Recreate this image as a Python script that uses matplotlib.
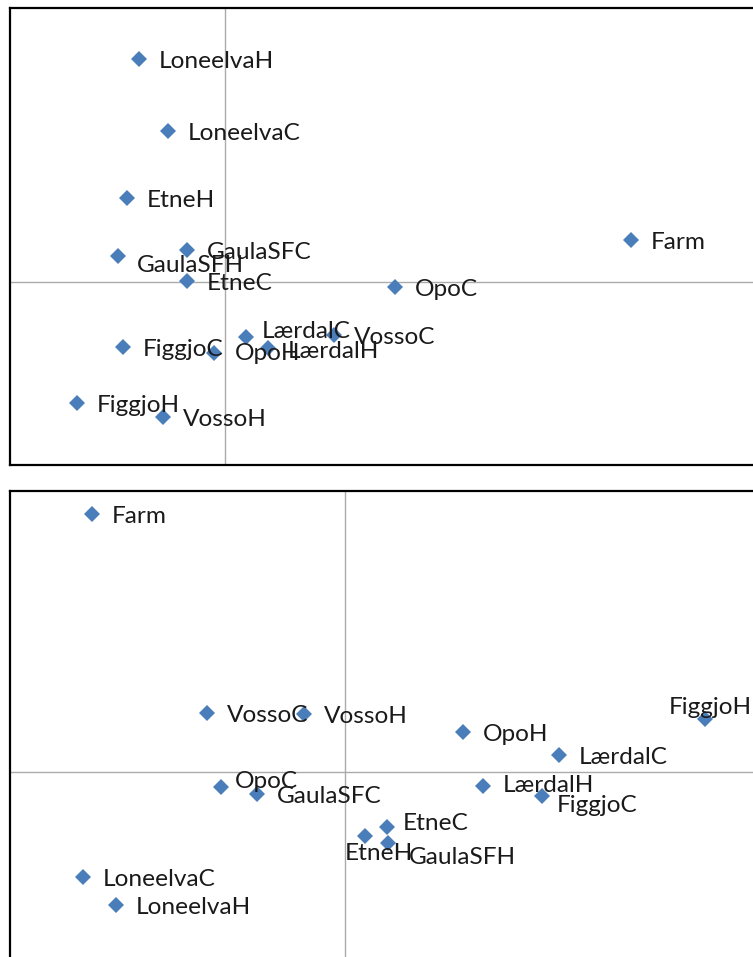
import matplotlib
matplotlib.use("Agg")
import matplotlib.pyplot as plt

# ---------------- data (score units) ----------------
top_labels = ["LoneelvaH", "LoneelvaC", "EtneH", "GaulaSFC", "GaulaSFH", "EtneC", "Farm",
              "OpoC", "LærdalC", "VossoC", "FiggjoC", "OpoH", "LærdalH", "FiggjoH", "VossoH"]
top_x = [-0.86, -0.57, -0.98, -0.38, -1.07, -0.38, 4.06, 1.70, 0.21, 1.09, -1.02, -0.11, 0.43, -1.48, -0.62]
top_y = [2.23, 1.51, 0.84, 0.32, 0.26, 0.01, 0.42, -0.05, -0.55, -0.53, -0.65, -0.71, -0.66, -1.21, -1.35]

bot_labels = ["Farm", "VossoC", "VossoH", "OpoH", "FiggjoH", "LærdalC", "OpoC", "GaulaSFC",
              "LærdalH", "FiggjoC", "EtneC", "EtneH", "GaulaSFH", "LoneelvaC", "LoneelvaH"]
bot_x = [-2.53, -1.38, -0.41, 1.18, 3.60, 2.14, -1.24, -0.88, 1.38, 1.97, 0.42, 0.20, 0.43, -2.62, -2.29]
bot_y = [2.58, 0.59, 0.58, 0.40, 0.53, 0.17, -0.15, -0.22, -0.14, -0.24, -0.55, -0.64, -0.71, -1.05, -1.33]

# ---------------- style ----------------
W, H = 753, 957
DPI = 100
MARKER_COLOR = "#4A7EBB"
GRID_COLOR = "#ABABAB"
TEXT_COLOR = "#1a1a1a"
FONT = ["Lato", "DejaVu Sans"]
FS = 17.6

DEFAULT_OFF = (19.5, 2.5)  # pixels right, pixels down
top_off = {"GaulaSFH": (19, 10), "LærdalC": (16, -6), "OpoH": (21, 1), "LærdalH": (20, 3.5)}
bot_off = {"FiggjoH": (-36, -11), "OpoC": (14, -5), "FiggjoC": (15, 9), "EtneC": (16, -4),
           "EtneH": (-20, 17), "GaulaSFH": (21, 14), "LærdalH": (20, 0)}

fig = plt.figure(figsize=(W / DPI, H / DPI), dpi=DPI)


def make_ax(px_left, px_top, px_right, px_bottom):
    return fig.add_axes([px_left / W, 1 - px_bottom / H,
                         (px_right - px_left) / W, (px_bottom - px_top) / H])


def draw(ax, labels, xs, ys, offs, xlim, ylim):
    ax.set_xlim(*xlim)
    ax.set_ylim(*ylim)
    ax.axhline(0, color=GRID_COLOR, lw=1.0, zorder=1)
    ax.axvline(0, color=GRID_COLOR, lw=1.0, zorder=1)
    ax.plot(xs, ys, linestyle="none", marker="D", markersize=7.8,
            color=MARKER_COLOR, markeredgewidth=0, zorder=3)
    for lab, x, y in zip(labels, xs, ys):
        dx, dy = offs.get(lab, DEFAULT_OFF)
        ax.annotate(lab, (x, y), xytext=(dx * 72 / DPI, -dy * 72 / DPI),
                    textcoords="offset points", ha="left", va="center",
                    fontsize=FS, family=FONT, color=TEXT_COLOR, zorder=4,
                    annotation_clip=False)
    ax.set_xticks([])
    ax.set_yticks([])
    for s in ax.spines.values():
        s.set_linewidth(1.6)
        s.set_color("black")


ax1 = make_ax(10, 8, 790, 465)
draw(ax1, top_labels, top_x, top_y, top_off, (-2.15, 5.65), (-1.83, 2.74))

ax2 = make_ax(10, 491, 790, 990)
draw(ax2, bot_labels, bot_x, bot_y, bot_off, (-3.35, 4.45), (-2.18, 2.81))

fig.savefig("out.png", dpi=DPI)
